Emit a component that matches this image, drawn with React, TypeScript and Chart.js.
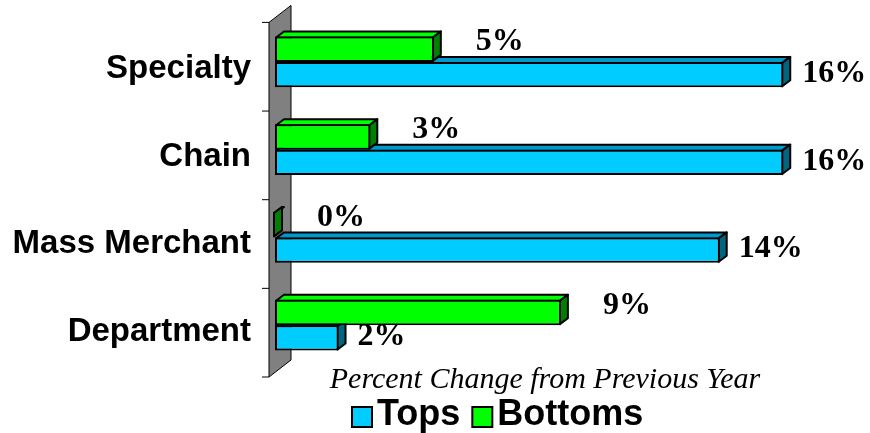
import React, { useEffect, useRef } from "react";
import { Chart, registerables } from "chart.js";

Chart.register(...registerables);

// ---- data ----
const categories = ["Specialty", "Chain", "Mass Merchant", "Department"];
const topsValues = [16, 16, 14, 2];
const bottomsValues = [5, 3, 0, 9];
const seriesNames = ["Tops", "Bottoms"];
const axisTitle = "Percent Change from Previous Year";
const axisMin = 0;
const axisMax = 17;

// ---- styles ----
const TOPS_FACES = { front: "#00CCFF", top: "#0099CC", side: "#006680" };
const BOTTOMS_FACES = { front: "#00FF00", top: "#00FF00", side: "#008000" };
const DX = 8;
const DY = -6;
const SANS = "'Liberation Sans', Arial, sans-serif";
const SERIF = "'Liberation Serif', 'Times New Roman', serif";

function poly(ctx: CanvasRenderingContext2D, pts: number[][], fill: string) {
  ctx.beginPath();
  ctx.moveTo(pts[0][0], pts[0][1]);
  for (let i = 1; i < pts.length; i++) ctx.lineTo(pts[i][0], pts[i][1]);
  ctx.closePath();
  ctx.fillStyle = fill;
  ctx.fill();
  ctx.stroke();
}

const threeDPlugin = {
  id: "threeD",
  beforeDatasetsDraw(chart: any) {
    const ctx: CanvasRenderingContext2D = chart.ctx;
    const area = chart.chartArea;
    const wl = area.left - 6;
    const wr = area.left + 16;
    const yTop = area.top + 4.4;
    const yBot = area.bottom + 8;
    ctx.save();
    ctx.strokeStyle = "#000";
    ctx.lineWidth = 1;
    poly(ctx, [[wl, yTop], [wr, yTop - 17], [wr, yBot - 17], [wl, yBot]], "#808080");
    ctx.beginPath();
    for (let i = 0; i <= categories.length; i++) {
      const y = yTop + ((yBot - yTop) * i) / categories.length;
      ctx.moveTo(wl - 7, y);
      ctx.lineTo(wl, y);
    }
    ctx.stroke();

    ctx.lineWidth = 2;
    ctx.lineJoin = "round";
    for (let d = chart.data.datasets.length - 1; d >= 0; d--) {
      const meta = chart.getDatasetMeta(d);
      const faces = chart.data.datasets[d].faces;
      meta.data.forEach((bar: any) => {
        const p = bar.getProps(["x", "y", "base", "height"], true);
        const t = p.y - p.height / 2 + 1;
        const b = p.y + p.height / 2 - 1;
        const x0 = p.base + 1;
        const x1 = p.x - 1;
        poly(ctx, [[x0, t], [x0 + DX, t + DY], [x1 + DX, t + DY], [x1, t]], faces.top);
        poly(ctx, [[x1, t], [x1 + DX, t + DY], [x1 + DX, b + DY], [x1, b]], faces.side);
      });
    }
    ctx.restore();
  },
  afterDatasetsDraw(chart: any) {
    const ctx: CanvasRenderingContext2D = chart.ctx;
    const area = chart.chartArea;
    ctx.save();
    // value labels
    ctx.fillStyle = "#000";
    ctx.font = `bold 32px ${SERIF}`;
    ctx.textAlign = "left";
    ctx.textBaseline = "middle";
    chart.data.datasets.forEach((ds: any, d: number) => {
      const meta = chart.getDatasetMeta(d);
      meta.data.forEach((bar: any, i: number) => {
        const p = bar.getProps(["x", "y"], true);
        const txt = `${ds.data[i]}%`;
        if (ds.label === "Tops") ctx.fillText(txt, p.x + 19, p.y - 1);
        else ctx.fillText(txt, p.x + 42, p.y - 7);
      });
    });
    // axis title
    ctx.font = `italic 30px ${SERIF}`;
    ctx.textAlign = "center";
    ctx.textBaseline = "alphabetic";
    ctx.fillText(axisTitle, (area.left + area.right) / 2, 388);
    // legend
    ctx.font = `bold 36px ${SANS}`;
    ctx.textAlign = "left";
    let x = 352;
    seriesNames.forEach((name) => {
      const ds = chart.data.datasets.find((s: any) => s.label === name);
      ctx.fillStyle = ds.backgroundColor;
      ctx.strokeStyle = "#000";
      ctx.lineWidth = 2;
      ctx.fillRect(x, 407, 20, 20);
      ctx.strokeRect(x, 407, 20, 20);
      ctx.fillStyle = "#000";
      ctx.fillText(name, x + 25, 425);
      x += 25 + ctx.measureText(name).width + 12;
    });
    ctx.restore();
  },
};

export default function App() {
  const ref = useRef<HTMLCanvasElement | null>(null);
  useEffect(() => {
    if (!ref.current) return;
    const chart = new Chart(ref.current, {
      type: "bar",
      data: {
        labels: categories,
        datasets: [
          {
            label: "Bottoms",
            data: bottomsValues,
            backgroundColor: BOTTOMS_FACES.front,
            borderColor: "#000",
            borderWidth: 2,
            borderSkipped: false,
            categoryPercentage: 0.58,
            barPercentage: 1,
            faces: BOTTOMS_FACES,
          } as any,
          {
            label: "Tops",
            data: topsValues,
            backgroundColor: TOPS_FACES.front,
            borderColor: "#000",
            borderWidth: 2,
            borderSkipped: false,
            categoryPercentage: 0.58,
            barPercentage: 1,
            faces: TOPS_FACES,
          } as any,
        ],
      },
      options: {
        indexAxis: "y",
        animation: false,
        responsive: false,
        layout: { padding: { top: 18, bottom: 64, right: 55, left: 0 } },
        plugins: {
          legend: { display: false },
          tooltip: { enabled: false },
          title: { display: false },
        },
        scales: {
          x: { display: false, min: axisMin, max: axisMax },
          y: {
            grid: { display: false, drawTicks: false },
            border: { display: false },
            ticks: {
              color: "#000",
              font: { family: SANS, size: 33, weight: "bold" },
              padding: 24,
              labelOffset: 7,
              autoSkip: false,
            },
            afterFit: (s: any) => {
              s.width = 275;
              s.paddingTop = 0;
              s.paddingBottom = 0;
            },
          },
        },
      },
      plugins: [threeDPlugin],
    } as any);
    return () => chart.destroy();
  }, []);
  return (
    <div style={{ position: "fixed", left: 0, top: 0, width: 870, height: 433, background: "#fff" }}>
      <canvas ref={ref} width={870} height={433} style={{ display: "block" }} />
    </div>
  );
}
